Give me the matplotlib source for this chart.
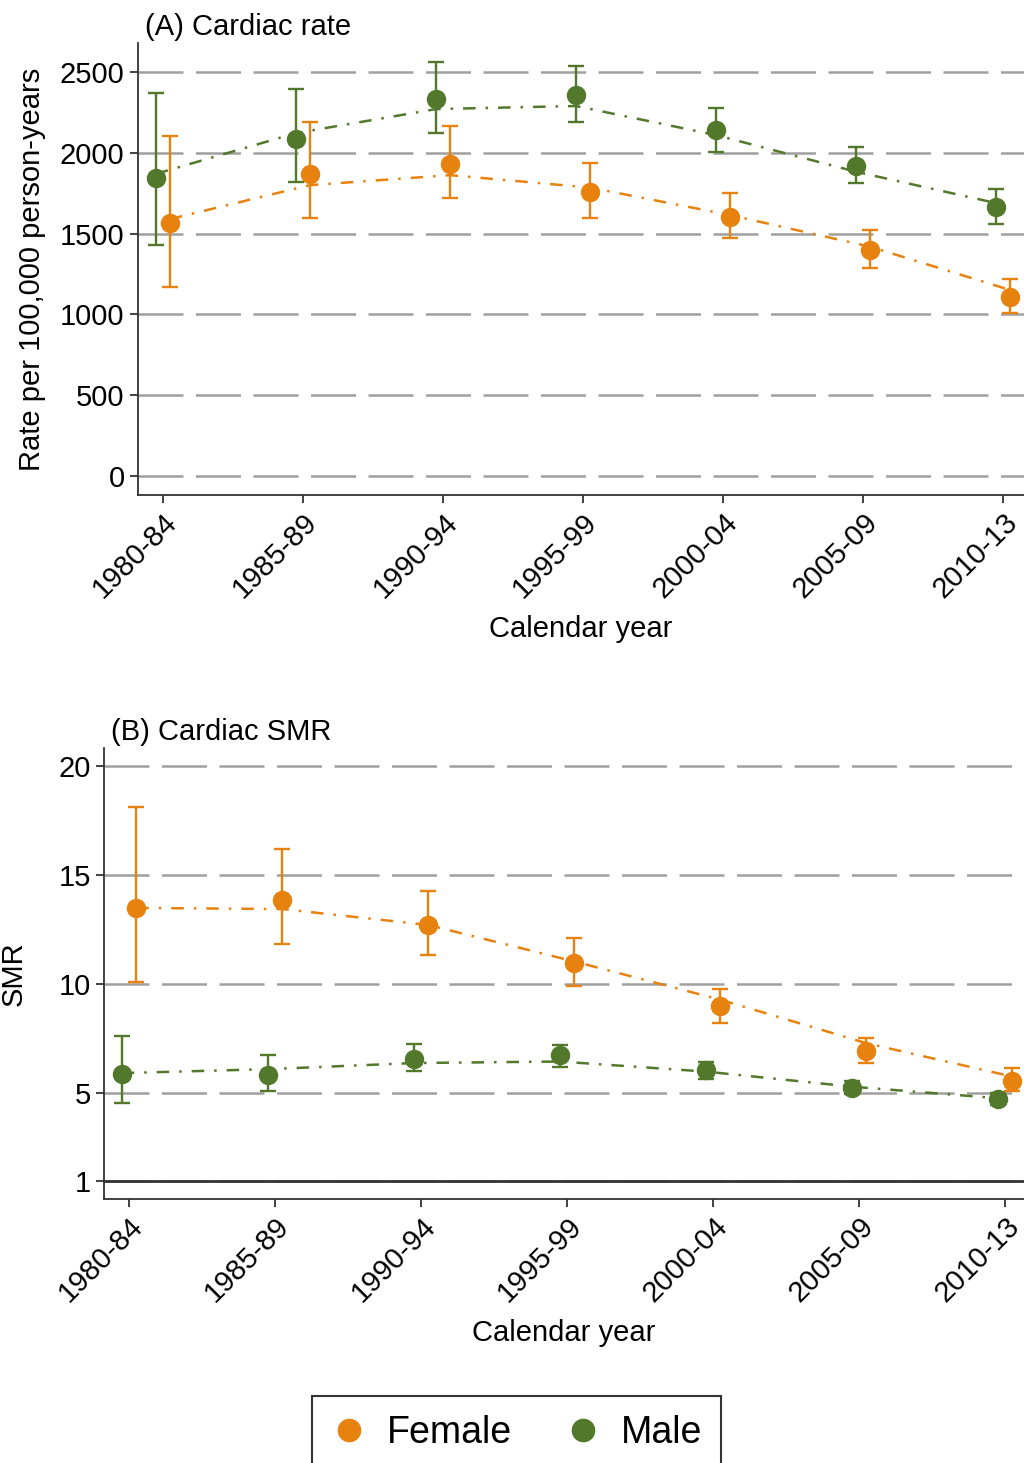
import matplotlib
matplotlib.use("Agg")
import matplotlib.pyplot as plt
import numpy as np

plt.rcParams['font.family'] = ['Liberation Sans', 'DejaVu Sans']

periods = ['1980-84', '1985-89', '1990-94', '1995-99', '2000-04', '2005-09', '2010-13']

# (A) cardiac rate per 100,000 person-years
rate_f = [1568, 1867, 1929, 1759, 1605, 1399, 1106]
rate_f_lo = [1172, 1595, 1719, 1599, 1471, 1289, 1007]
rate_f_hi = [2104, 2193, 2166, 1939, 1749, 1522, 1219]
rate_m = [1842, 2085, 2333, 2358, 2141, 1920, 1663]
rate_m_lo = [1429, 1821, 2124, 2193, 2007, 1811, 1559]
rate_m_hi = [2368, 2395, 2564, 2539, 2279, 2038, 1774]
rate_f_fit = [1590, 1800, 1862, 1785, 1615, 1419, 1151]
rate_m_fit = [1870, 2122, 2271, 2290, 2110, 1883, 1689]

# (B) cardiac SMR
smr_f = [13.48, 13.83, 12.68, 10.96, 8.97, 6.91, 5.57]
smr_f_lo = [10.09, 11.81, 11.31, 9.92, 8.21, 6.38, 5.08]
smr_f_hi = [18.10, 16.20, 14.24, 12.10, 9.77, 7.52, 6.15]
smr_m = [5.87, 5.84, 6.56, 6.73, 6.04, 5.23, 4.73]
smr_m_lo = [4.57, 5.12, 6.00, 6.22, 5.64, 4.97, 4.44]
smr_m_hi = [7.60, 6.74, 7.23, 7.22, 6.42, 5.54, 5.03]
smr_f_fit = [13.48, 13.43, 12.70, 11.03, 9.28, 7.29, 5.76]
smr_m_fit = [5.92, 6.10, 6.38, 6.45, 5.99, 5.30, 4.77]

ORANGE = '#E8820E'
GREEN = '#52792B'
GRID = '#a0a0a0'
AX = '#333333'
FS = 21


def draw(ax, f, flo, fhi, m, mlo, mhi, ffit, mfit):
    x = np.arange(len(periods))
    xf = x + 0.05
    xm = x - 0.05
    for xx, v, lo, hi, fit, c in [(xm, m, mlo, mhi, mfit, GREEN), (xf, f, flo, fhi, ffit, ORANGE)]:
        v = np.array(v)
        ax.plot(xx, fit, color=c, lw=1.8, dashes=[5, 4, 1, 4], zorder=3)
        ax.errorbar(xx, v, yerr=[v - np.array(lo), np.array(hi) - v], fmt='o', color=c,
                    ms=13, elinewidth=1.7, capsize=6, capthick=1.7, zorder=4)
    ax.set_xticks(x)
    ax.set_xticklabels(periods, rotation=45, ha='right', rotation_mode='anchor', fontsize=FS)
    ax.tick_params(axis='both', length=6, width=1.3, color=AX, labelsize=FS)
    ax.grid(axis='y', color=GRID, lw=1.8, dashes=[18, 5])
    ax.set_axisbelow(True)
    for s in ['top', 'right']:
        ax.spines[s].set_visible(False)
    for s in ['left', 'bottom']:
        ax.spines[s].set_color(AX)
        ax.spines[s].set_linewidth(1.3)
    ax.set_xlabel('Calendar year', fontsize=FS, labelpad=8)


fig = plt.figure(figsize=(10.24, 14.63), dpi=100)

ax1 = fig.add_axes([0.1345, 0.6617, 0.8655, 0.3089])
draw(ax1, rate_f, rate_f_lo, rate_f_hi, rate_m, rate_m_lo, rate_m_hi, rate_f_fit, rate_m_fit)
ax1.set_xlim(-0.18, 6.15)
ax1.set_ylim(-118, 2680)
ax1.set_yticks([0, 500, 1000, 1500, 2000, 2500])
ax1.set_ylabel('Rate per 100,000 person-years', fontsize=FS, labelpad=10)
ax1.text(0.008, 1.005, '(A) Cardiac rate', transform=ax1.transAxes, fontsize=FS, va='bottom')

ax2 = fig.add_axes([0.1016, 0.1805, 0.8984, 0.3082])
draw(ax2, smr_f, smr_f_lo, smr_f_hi, smr_m, smr_m_lo, smr_m_hi, smr_f_fit, smr_m_fit)
ax2.set_xlim(-0.171, 6.13)
ax2.set_ylim(0.16, 20.8)
ax2.set_yticks([1, 5, 10, 15, 20])
ax2.axhline(1, color=AX, lw=2, zorder=2)
ax2.set_ylabel('SMR', fontsize=FS, labelpad=22)
ax2.text(0.008, 1.005, '(B) Cardiac SMR', transform=ax2.transAxes, fontsize=FS, va='bottom')

handles = [plt.Line2D([], [], ls='none', marker='o', ms=16, color=ORANGE),
           plt.Line2D([], [], ls='none', marker='o', ms=16, color=GREEN)]
leg = fig.legend(handles, ['Female', 'Male'], loc='upper center', bbox_to_anchor=(516 / 1024, 1 - 1396 / 1463),
                 ncol=2, fontsize=27, frameon=True, fancybox=False, edgecolor='black',
                 handletextpad=0.5, columnspacing=1.4, borderpad=0.5, handlelength=1.0,
                 borderaxespad=0)
leg.get_frame().set_linewidth(1.5)

fig.savefig('out.png', dpi=100)
